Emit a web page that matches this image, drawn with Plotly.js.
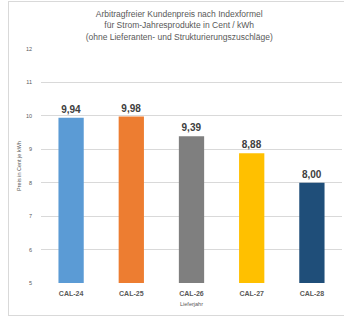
<!DOCTYPE html>
<html>
<head>
<meta charset="utf-8">
<script src="https://cdn.plot.ly/plotly-3.0.1.min.js"></script>
<style>
html,body{margin:0;padding:0;background:#fff;}
#frame{position:absolute;left:8px;top:1px;width:340px;height:313px;border:1px solid #d9d9d9;box-sizing:content-box;}
#chart{position:absolute;left:0;top:0;width:344px;height:317px;}
</style>
</head>
<body>
<div id="frame"></div>
<div id="chart"></div>
<script>
const categories = ['CAL-24', 'CAL-25', 'CAL-26', 'CAL-27', 'CAL-28'];
const prices = [9.94, 9.98, 9.39, 8.88, 8.00];
const barColors = ['#5B9BD5', '#ED7D31', '#7F7F7F', '#FFC000', '#1F4E79'];
const yTicks = [5, 6, 7, 8, 9, 10, 11, 12];

const font = 'Liberation Sans, Arial, sans-serif';

const trace = {
  type: 'bar',
  x: categories,
  y: prices,
  marker: {color: barColors},
  texttemplate: '%{y:.2f}',
  textposition: 'outside',
  textfont: {family: font, size: 10, color: '#404040', weight: 'bold'},
  cliponaxis: false,
  hoverinfo: 'none'
};

const layout = {
  width: 344,
  height: 317,
  paper_bgcolor: 'rgba(0,0,0,0)',
  plot_bgcolor: 'rgba(0,0,0,0)',
  separators: ',.',
  margin: {l: 41, r: 2, t: 49, b: 34},
  bargap: 0.58,
  showlegend: false,
  font: {family: font, color: '#595959'},
  title: {
    text: 'Arbitragfreier Kundenpreis nach Indexformel<br>für Strom-Jahresprodukte in Cent / kWh<br>(ohne Lieferanten- und Strukturierungszuschläge)',
    font: {family: font, size: 8.5, color: '#595959'},
    x: 0.521, xanchor: 'center',
    y: 0.945, yanchor: 'top'
  },
  xaxis: {
    type: 'category',
    tickfont: {family: font, size: 7, color: '#595959', weight: 'bold'},
    ticks: '',
    ticklabelstandoff: 5,
    showline: false,
    showgrid: false,
    title: {text: 'Lieferjahr', font: {family: font, size: 5.5, color: '#595959'}, standoff: 6}
  },
  yaxis: {
    range: [5, 12],
    tickvals: yTicks,
    ticktext: yTicks.map(String),
    tickfont: {family: font, size: 5.5, color: '#595959'},
    ticks: '',
    ticklabelstandoff: 8,
    showgrid: true,
    gridcolor: '#d9d9d9',
    gridwidth: 1,
    zeroline: false,
    showline: false,
    title: {text: 'Preis in Cent je kWh', font: {family: font, size: 5.5, color: '#595959'}, standoff: 3}
  }
};

Plotly.newPlot('chart', [trace], layout, {displayModeBar: false, staticPlot: true});
</script>
</body>
</html>
